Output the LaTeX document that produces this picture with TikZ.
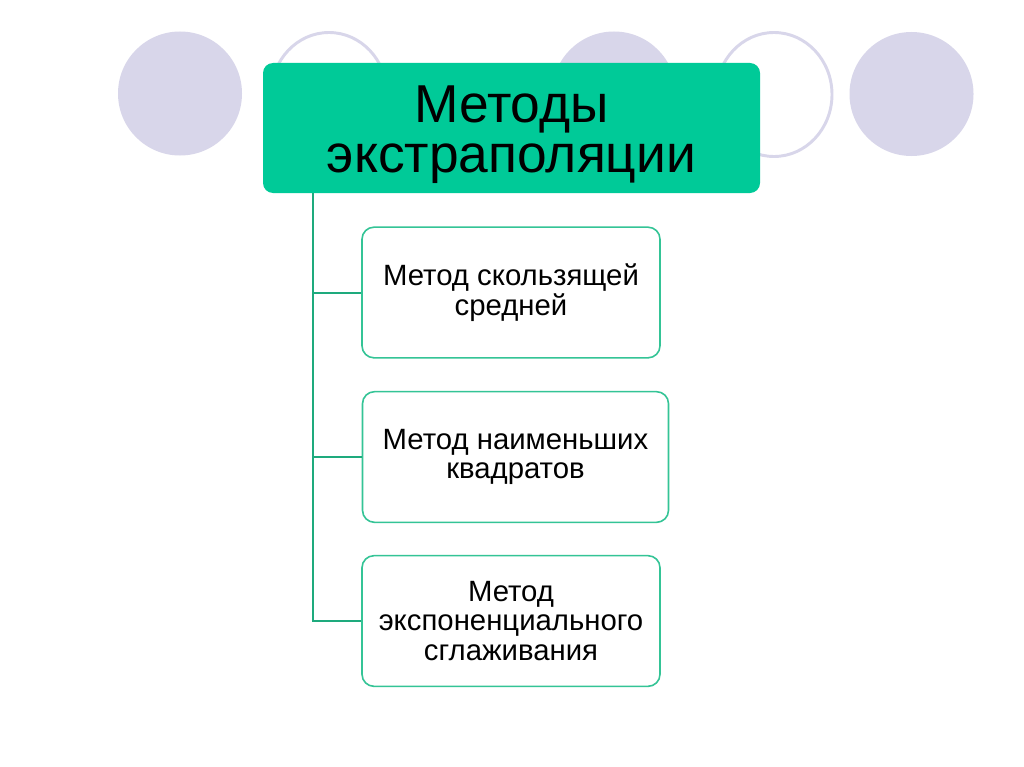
\documentclass[tikz,border=0pt]{standalone}
\usepackage{fontspec}
\setmainfont{Liberation Sans}
\definecolor{lav}{RGB}{216,214,234}
\definecolor{headgreen}{RGB}{0,202,152}
\definecolor{boxgreen}{RGB}{52,196,150}
\definecolor{linegreen}{RGB}{30,170,125}
\tikzset{
  dot/.style={fill=lav, draw=none},
  ring/.style={draw=lav, line width=2.2pt, fill=white},
  headbox/.style={fill=headgreen, draw=none, rounded corners=7.5pt, inner sep=0pt,
    minimum width=372.75pt, minimum height=97.5pt},
  headtext/.style={inner sep=0pt, align=center, font=\fontsize{40}{37.5}\selectfont},
  subbox/.style={draw=boxgreen, line width=1.2pt, fill=white, rounded corners=9pt, inner sep=0pt,
    minimum height=98pt, align=center, font=\fontsize{22}{22}\selectfont},
  conn/.style={draw=linegreen, line width=1.5pt}
}
\begin{document}
\begin{tikzpicture}[x=0.75pt,y=-0.75pt]
\useasboundingbox[fill=white] (0,0) rectangle (1024,767);
% decorative circles
\path[dot] (180,93.5) circle[radius=62];
\path[ring] (329,94.5) ellipse[x radius=58, y radius=62];
\path[dot] (614,93.5) circle[radius=62];
\path[ring] (774,94.5) ellipse[x radius=58, y radius=62];
\path[dot] (911.5,94) circle[radius=62];
% heading
\node[headbox] (main) at (511.5,128) {};
\node[headtext] (maintext) at (511.5,135) {Методы\\экстраполяции};
% sub boxes
\node[subbox, minimum width=223.5pt] (b1) at (511,292.5) {Метод скользящей\\средней};
\node[subbox, minimum width=229.5pt] (b2) at (515.5,457) {Метод наименьших\\квадратов};
\node[subbox, minimum width=223.5pt] (b3) at (511,621) {Метод\\экспоненциального\\сглаживания};
% connectors
\coordinate (t) at (313,193);
\draw[conn] (t) |- (b1.west);
\draw[conn] (t) |- (b2.west);
\draw[conn] (t) |- (b3.west);
\end{tikzpicture}
\end{document}
